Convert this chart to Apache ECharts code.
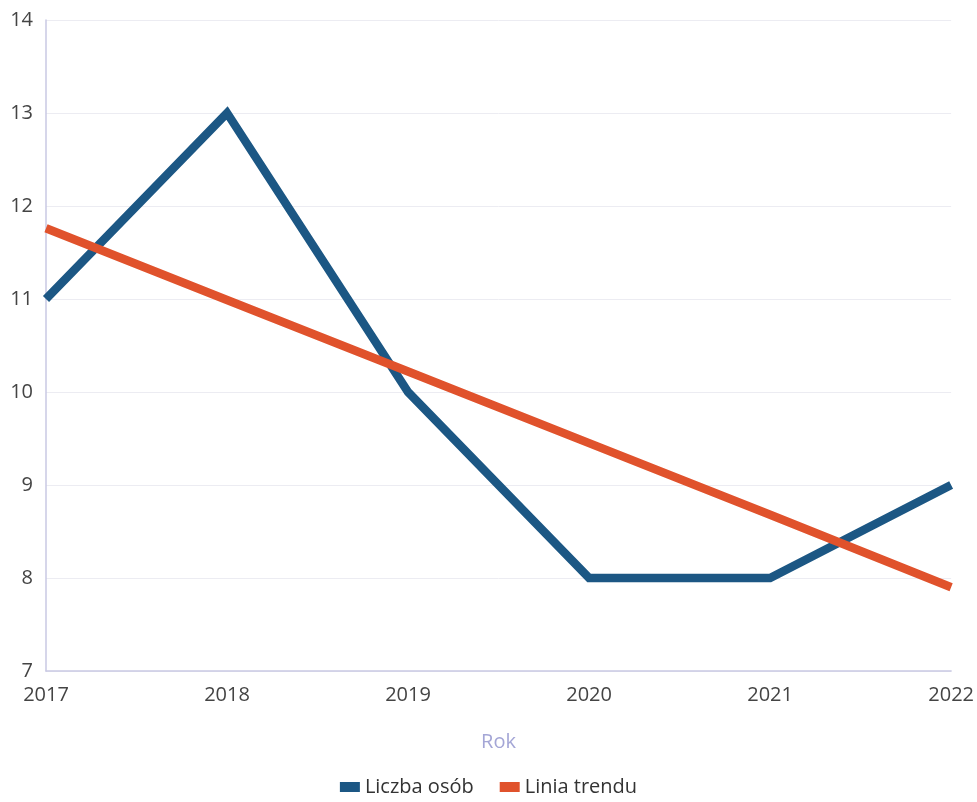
<!DOCTYPE html>
<html><head><meta charset="utf-8">
<script src="https://cdn.jsdelivr.net/npm/echarts@6/dist/echarts.min.js"></script>
<style>html,body{margin:0;padding:0;background:#fff}#c{width:977px;height:802px}</style>
</head><body><div id="c"></div>
<script>
const years = ['2017','2018','2019','2020','2021','2022'];
const liczbaOsob = [11, 13, 10, 8, 8, 9];
const liniaTrendu = [11.76, 10.99, 10.22, 9.45, 8.68, 7.9];
const yTicks = [7, 8, 9, 10, 11, 12, 13, 14];

const chart = echarts.init(document.getElementById('c'));
chart.setOption({
  backgroundColor: '#fff',
  animation: false,
  textStyle: { fontFamily: 'Open Sans' },
  grid: { left: 46, right: 24, top: 20, bottom: 131, containLabel: false },
  legend: {
    bottom: 0, left: 'center', itemWidth: 20, itemHeight: 10, itemGap: 26,
    icon: 'rect',
    textStyle: { fontSize: 20, color: '#333', fontFamily: 'Open Sans' },
    data: ['Liczba osób', 'Linia trendu']
  },
  xAxis: {
    type: 'category', data: years, boundaryGap: false,
    name: 'Rok', nameLocation: 'middle', nameGap: 61,
    nameTextStyle: { fontSize: 20, color: '#a4a6d6' },
    axisLine: { lineStyle: { color: '#c9c9e3', width: 1.5 } },
    axisTick: { show: false },
    axisLabel: { fontSize: 20, color: '#444', margin: 14 }
  },
  yAxis: {
    type: 'value', min: yTicks[0], max: yTicks[yTicks.length - 1], interval: 1,
    axisLine: { show: true, lineStyle: { color: '#c9c9e3', width: 1.5 } },
    axisTick: { show: false },
    axisLabel: { fontSize: 20, color: '#444', margin: 13 },
    splitLine: { lineStyle: { color: '#ececf2', width: 1 } }
  },
  series: [
    { name: 'Liczba osób', type: 'line', data: liczbaOsob, showSymbol: false,
      lineStyle: { color: '#1c5784', width: 8.5, join: 'miter' }, itemStyle: { color: '#1c5784' } },
    { name: 'Linia trendu', type: 'line', data: liniaTrendu, showSymbol: false,
      lineStyle: { color: '#e0522c', width: 8.5 }, itemStyle: { color: '#e0522c' } }
  ]
});
</script></body></html>
